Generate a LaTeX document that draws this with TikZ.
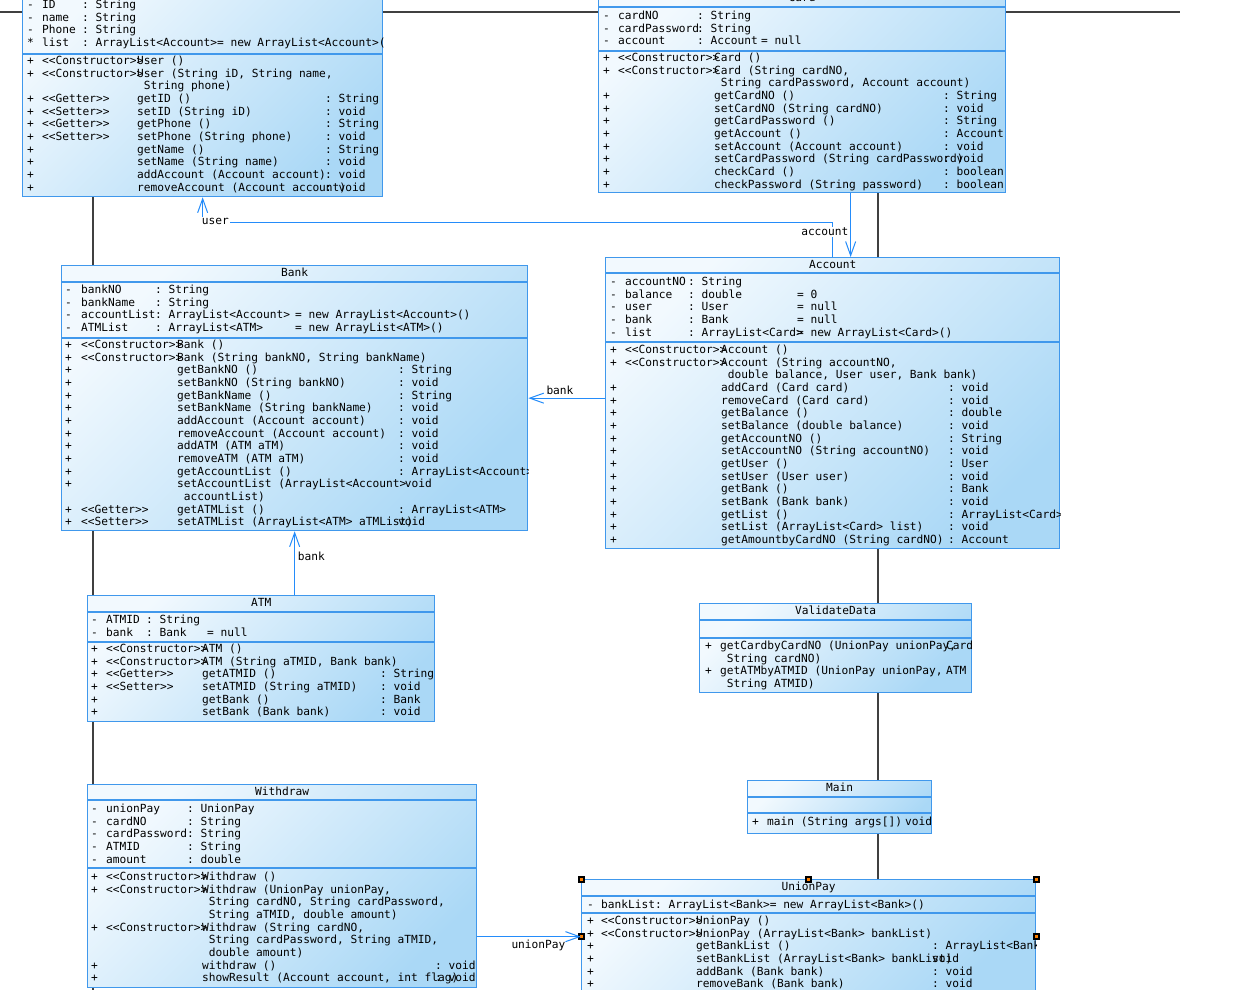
\documentclass[tikz,border=0pt]{standalone}
\usepackage{fontspec}
\setmonofont{DejaVu Sans Mono}
\usepackage{xcolor}
\usepackage{tikz}
\usetikzlibrary{
  positioning,
  calc,
  arrows.meta
}

\definecolor{umlborder}{RGB}{64,152,236}
\definecolor{umltop}{RGB}{242,249,254}
\definecolor{umlbottom}{RGB}{170,216,246}
\definecolor{assocblue}{RGB}{36,140,250}
\definecolor{pagegray}{RGB}{64,64,64}

\newlength\cola
\newlength\colb
\newlength\colc
\newcommand\cols[3]{\setlength\cola{#1pt}\setlength\colb{#2pt}\setlength\colc{#3pt}}
\newcommand\mrow[4]{\strut\makebox[\cola][l]{#1}\makebox[\colb][l]{#2}\makebox[\colc][l]{#3}#4}

\tikzset{
  umlfont/.style={font=\ttfamily\fontsize{11.2}{12.67}\selectfont},
  umlbox/.style={draw=umlborder, line width=1.3pt, inner sep=0pt, anchor=north west,
    top color=umltop, bottom color=umlbottom, shading angle=45},
  umlline/.style={draw=umlborder, line width=1.3pt},
  umlname/.style={umlfont, inner sep=0pt, anchor=north, text height=8pt, text depth=2pt},
  umltext/.style={umlfont, inner sep=0pt, anchor=north west, align=left},
  assoc/.style={draw=assocblue, line width=1pt, -{Straight Barb[length=14pt,width=10pt]}},
  role/.style={umlfont, inner sep=1pt},
  pageline/.style={draw=pagegray, line width=1.5pt}
}

\begin{document}
\begin{tikzpicture}[x=1pt,y=-1pt]
  \useasboundingbox (0,0) rectangle (1242,990);
  \fill[white] (0,0) rectangle (1242,990);
  \clip (0,0) rectangle (1242,990);

  % page lines behind the classes
  \draw[pageline] (0,12) -- (1180,12);
  \draw[pageline] (93,12) -- (93,990);
  \draw[pageline] (878,12) -- (878,990);

  % User
  \node[umlbox, minimum width=360pt, minimum height=217pt] (user) at (22,-21) {};
  \begin{scope}
    \clip (user.north west) rectangle (user.south east);
    \node[umlname, minimum height=17pt] (user-name) at (user.north) {User};
    \cols{15}{40}{0}
    \node[umltext] (user-attr) at (27,-0.5) {%
      \mrow{-}{ID}{: String}{}\\
      \mrow{-}{name}{: String}{}\\
      \mrow{-}{Phone}{: String}{}\\
      \mrow{*}{list}{: ArrayList<Account>= new ArrayList<Account>()}{}};
    \cols{15}{95}{188}
    \node[umltext] (user-ops) at (27,55.5) {%
      \mrow{+}{<<Constructor>>}{User ()}{}\\
      \mrow{+}{<<Constructor>>}{User (String iD, String name,}{}\\
      \mrow{}{}{\ String phone)}{}\\
      \mrow{+}{<<Getter>>}{getID ()}{: String}\\
      \mrow{+}{<<Setter>>}{setID (String iD)}{: void}\\
      \mrow{+}{<<Getter>>}{getPhone ()}{: String}\\
      \mrow{+}{<<Setter>>}{setPhone (String phone)}{: void}\\
      \mrow{+}{}{getName ()}{: String}\\
      \mrow{+}{}{setName (String name)}{: void}\\
      \mrow{+}{}{addAccount (Account account)}{: void}\\
      \mrow{+}{}{removeAccount (Account account)}{: void}};
  \end{scope}
  \draw[umlline] ([yshift=-17pt]user.north west) -- ([yshift=-17pt]user.north east);
  \draw[umlline] ([yshift=-75pt]user.north west) -- ([yshift=-75pt]user.north east);

  % Card
  \node[umlbox, minimum width=407pt, minimum height=202pt] (card) at (598,-10) {};
  \begin{scope}
    \clip (card.north west) rectangle (card.south east);
    \node[umlname, minimum height=17pt] (card-name) at (card.north) {Card};
    \cols{15}{79}{64}
    \node[umltext] (card-attr) at (603,10.5) {%
      \mrow{-}{cardNO}{: String}{}\\
      \mrow{-}{cardPassword}{: String}{}\\
      \mrow{-}{account}{: Account}{= null}};
    \cols{15}{96}{229}
    \node[umltext] (card-ops) at (603,52.5) {%
      \mrow{+}{<<Constructor>>}{Card ()}{}\\
      \mrow{+}{<<Constructor>>}{Card (String cardNO,}{}\\
      \mrow{}{}{\ String cardPassword, Account account)}{}\\
      \mrow{+}{}{getCardNO ()}{: String}\\
      \mrow{+}{}{setCardNO (String cardNO)}{: void}\\
      \mrow{+}{}{getCardPassword ()}{: String}\\
      \mrow{+}{}{getAccount ()}{: Account}\\
      \mrow{+}{}{setAccount (Account account)}{: void}\\
      \mrow{+}{}{setCardPassword (String cardPassword)}{: void}\\
      \mrow{+}{}{checkCard ()}{: boolean}\\
      \mrow{+}{}{checkPassword (String password)}{: boolean}};
  \end{scope}
  \draw[umlline] ([yshift=-17pt]card.north west) -- ([yshift=-17pt]card.north east);
  \draw[umlline] ([yshift=-61pt]card.north west) -- ([yshift=-61pt]card.north east);

  % Bank
  \node[umlbox, minimum width=466pt, minimum height=265pt] (bank) at (61,265) {};
  \begin{scope}
    \clip (bank.north west) rectangle (bank.south east);
    \node[umlname, minimum height=17pt] (bank-name) at (bank.north) {Bank};
    \cols{16}{74}{140}
    \node[umltext] (bank-attr) at (65,284.5) {%
      \mrow{-}{bankNO}{: String}{}\\
      \mrow{-}{bankName}{: String}{}\\
      \mrow{-}{accountList}{: ArrayList<Account>}{= new ArrayList<Account>()}\\
      \mrow{-}{ATMList}{: ArrayList<ATM>}{= new ArrayList<ATM>()}};
    \cols{16}{96}{221}
    \node[umltext] (bank-ops) at (65,339.5) {%
      \mrow{+}{<<Constructor>>}{Bank ()}{}\\
      \mrow{+}{<<Constructor>>}{Bank (String bankNO, String bankName)}{}\\
      \mrow{+}{}{getBankNO ()}{: String}\\
      \mrow{+}{}{setBankNO (String bankNO)}{: void}\\
      \mrow{+}{}{getBankName ()}{: String}\\
      \mrow{+}{}{setBankName (String bankName)}{: void}\\
      \mrow{+}{}{addAccount (Account account)}{: void}\\
      \mrow{+}{}{removeAccount (Account account)}{: void}\\
      \mrow{+}{}{addATM (ATM aTM)}{: void}\\
      \mrow{+}{}{removeATM (ATM aTM)}{: void}\\
      \mrow{+}{}{getAccountList ()}{: ArrayList<Account>}\\
      \mrow{+}{}{setAccountList (ArrayList<Account>}{ void}\\
      \mrow{}{}{\ accountList)}{}\\
      \mrow{+}{<<Getter>>}{getATMList ()}{: ArrayList<ATM>}\\
      \mrow{+}{<<Setter>>}{setATMList (ArrayList<ATM> aTMList)}{void}};
  \end{scope}
  \draw[umlline] ([yshift=-17pt]bank.north west) -- ([yshift=-17pt]bank.north east);
  \draw[umlline] ([yshift=-73pt]bank.north west) -- ([yshift=-73pt]bank.north east);

  % Account
  \node[umlbox, minimum width=454pt, minimum height=291pt] (account) at (605,257) {};
  \begin{scope}
    \clip (account.north west) rectangle (account.south east);
    \node[umlname, minimum height=16pt] (account-name) at (account.north) {Account};
    \cols{15}{63}{109}
    \node[umltext] (account-attr) at (610,276.5) {%
      \mrow{-}{accountNO}{: String}{}\\
      \mrow{-}{balance}{: double}{= 0}\\
      \mrow{-}{user}{: User}{= null}\\
      \mrow{-}{bank}{: Bank}{= null}\\
      \mrow{-}{list}{: ArrayList<Card>}{= new ArrayList<Card>()}};
    \cols{15}{96}{227}
    \node[umltext] (account-ops) at (610,344.5) {%
      \mrow{+}{<<Constructor>>}{Account ()}{}\\
      \mrow{+}{<<Constructor>>}{Account (String accountNO,}{}\\
      \mrow{}{}{\ double balance, User user, Bank bank)}{}\\
      \mrow{+}{}{addCard (Card card)}{: void}\\
      \mrow{+}{}{removeCard (Card card)}{: void}\\
      \mrow{+}{}{getBalance ()}{: double}\\
      \mrow{+}{}{setBalance (double balance)}{: void}\\
      \mrow{+}{}{getAccountNO ()}{: String}\\
      \mrow{+}{}{setAccountNO (String accountNO)}{: void}\\
      \mrow{+}{}{getUser ()}{: User}\\
      \mrow{+}{}{setUser (User user)}{: void}\\
      \mrow{+}{}{getBank ()}{: Bank}\\
      \mrow{+}{}{setBank (Bank bank)}{: void}\\
      \mrow{+}{}{getList ()}{: ArrayList<Card>}\\
      \mrow{+}{}{setList (ArrayList<Card> list)}{: void}\\
      \mrow{+}{}{getAmountbyCardNO (String cardNO)}{: Account}};
  \end{scope}
  \draw[umlline] ([yshift=-16pt]account.north west) -- ([yshift=-16pt]account.north east);
  \draw[umlline] ([yshift=-85pt]account.north west) -- ([yshift=-85pt]account.north east);

  % ATM
  \node[umlbox, minimum width=347pt, minimum height=126pt] (atm) at (87,595) {};
  \begin{scope}
    \clip (atm.north west) rectangle (atm.south east);
    \node[umlname, minimum height=17pt] (atm-name) at (atm.north) {ATM};
    \cols{15}{40}{61}
    \node[umltext] (atm-attr) at (91,614.5) {%
      \mrow{-}{ATMID}{: String}{}\\
      \mrow{-}{bank}{: Bank}{= null}};
    \cols{15}{96}{178}
    \node[umltext] (atm-ops) at (91,643.5) {%
      \mrow{+}{<<Constructor>>}{ATM ()}{}\\
      \mrow{+}{<<Constructor>>}{ATM (String aTMID, Bank bank)}{}\\
      \mrow{+}{<<Getter>>}{getATMID ()}{: String}\\
      \mrow{+}{<<Setter>>}{setATMID (String aTMID)}{: void}\\
      \mrow{+}{}{getBank ()}{: Bank}\\
      \mrow{+}{}{setBank (Bank bank)}{: void}};
  \end{scope}
  \draw[umlline] ([yshift=-17pt]atm.north west) -- ([yshift=-17pt]atm.north east);
  \draw[umlline] ([yshift=-47pt]atm.north west) -- ([yshift=-47pt]atm.north east);

  % ValidateData
  \node[umlbox, minimum width=272pt, minimum height=89pt] (validate) at (699,603) {};
  \begin{scope}
    \clip (validate.north west) rectangle (validate.south east);
    \node[umlname, minimum height=17pt] (validate-name) at (validate.north) {ValidateData};
    \cols{15}{0}{226}
    \node[umltext] (validate-ops) at (705,640.5) {%
      \mrow{+}{}{getCardbyCardNO (UnionPay unionPay,}{Card}\\
      \mrow{}{}{\ String cardNO)}{}\\
      \mrow{+}{}{getATMbyATMID (UnionPay unionPay,}{ATM}\\
      \mrow{}{}{\ String ATMID)}{}};
  \end{scope}
  \draw[umlline] ([yshift=-17pt]validate.north west) -- ([yshift=-17pt]validate.north east);
  \draw[umlline] ([yshift=-35pt]validate.north west) -- ([yshift=-35pt]validate.north east);

  % Main
  \node[umlbox, minimum width=184pt, minimum height=53pt] (main) at (747,780) {};
  \begin{scope}
    \clip (main.north west) rectangle (main.south east);
    \node[umlname, minimum height=17pt] (main-name) at (main.north) {Main};
    \cols{15}{0}{138}
    \node[umltext] (main-ops) at (752,816.5) {%
      \mrow{+}{}{main (String args[])}{void}};
  \end{scope}
  \draw[umlline] ([yshift=-17pt]main.north west) -- ([yshift=-17pt]main.north east);
  \draw[umlline] ([yshift=-33pt]main.north west) -- ([yshift=-33pt]main.north east);

  % Withdraw
  \node[umlbox, minimum width=389pt, minimum height=203pt] (withdraw) at (87,784) {};
  \begin{scope}
    \clip (withdraw.north west) rectangle (withdraw.south east);
    \node[umlname, minimum height=16pt] (withdraw-name) at (withdraw.north) {Withdraw};
    \cols{15}{81}{0}
    \node[umltext] (withdraw-attr) at (91,803.5) {%
      \mrow{-}{unionPay}{: UnionPay}{}\\
      \mrow{-}{cardNO}{: String}{}\\
      \mrow{-}{cardPassword}{: String}{}\\
      \mrow{-}{ATMID}{: String}{}\\
      \mrow{-}{amount}{: double}{}};
    \cols{15}{96}{233}
    \node[umltext] (withdraw-ops) at (91,871.5) {%
      \mrow{+}{<<Constructor>>}{Withdraw ()}{}\\
      \mrow{+}{<<Constructor>>}{Withdraw (UnionPay unionPay,}{}\\
      \mrow{}{}{\ String cardNO, String cardPassword,}{}\\
      \mrow{}{}{\ String aTMID, double amount)}{}\\
      \mrow{+}{<<Constructor>>}{Withdraw (String cardNO,}{}\\
      \mrow{}{}{\ String cardPassword, String aTMID,}{}\\
      \mrow{}{}{\ double amount)}{}\\
      \mrow{+}{}{withdraw ()}{: void}\\
      \mrow{+}{}{showResult (Account account, int flag)}{: void}};
  \end{scope}
  \draw[umlline] ([yshift=-16pt]withdraw.north west) -- ([yshift=-16pt]withdraw.north east);
  \draw[umlline] ([yshift=-84pt]withdraw.north west) -- ([yshift=-84pt]withdraw.north east);

  % UnionPay
  \node[umlbox, minimum width=454pt, minimum height=114pt] (unionpay) at (581,879) {};
  \begin{scope}
    \clip (unionpay.north west) rectangle (unionpay.south east);
    \node[umlname, minimum height=17pt] (unionpay-name) at (unionpay.north) {UnionPay};
    \cols{14}{0}{0}
    \node[umltext] (unionpay-attr) at (587,899.5) {%
      \mrow{-}{}{}{bankList: ArrayList<Bank>= new ArrayList<Bank>()}};
    \cols{14}{95}{236}
    \node[umltext] (unionpay-ops) at (587,915.5) {%
      \mrow{+}{<<Constructor>>}{UnionPay ()}{}\\
      \mrow{+}{<<Constructor>>}{UnionPay (ArrayList<Bank> bankList)}{}\\
      \mrow{+}{}{getBankList ()}{: ArrayList<Bank>}\\
      \mrow{+}{}{setBankList (ArrayList<Bank> bankList)}{void}\\
      \mrow{+}{}{addBank (Bank bank)}{: void}\\
      \mrow{+}{}{removeBank (Bank bank)}{: void}};
  \end{scope}
  \draw[umlline] ([yshift=-17pt]unionpay.north west) -- ([yshift=-17pt]unionpay.north east);
  \draw[umlline] ([yshift=-34pt]unionpay.north west) -- ([yshift=-34pt]unionpay.north east);
  % selection handles
  \foreach \h in {north west,north,north east,west,east}{
    \fill[black] ([shift={(-3.5,-3.5)}]unionpay.\h) rectangle ++(7,7);
    \fill[orange] ([shift={(-1.5,-1.5)}]unionpay.\h) rectangle ++(3,3);
  }

  % associations
  \draw[assoc] (account.north) -- ++(0,-35) -| (user.south);
  \draw[assoc] ([xshift=18pt]account.north |- card.south) -- ([xshift=18pt]account.north);
  \draw[assoc] (account.west |- bank.east) -- (bank.east);
  \draw[assoc] (atm.north -| bank.south) -- (bank.south);
  \draw[assoc] (withdraw.east |- unionpay.west) -- (unionpay.west);

  % role names
  \node[role, fill=white, anchor=west] (user-role) at ([shift={(-2,24)}]user.south) {user};
  \node[role, fill=white, anchor=east] (account-role) at ([shift={(17,-25)}]account.north) {account};
  \node[role, anchor=south west] (bank-role) at ([shift={(17,-2)}]bank.east) {bank};
  \node[role, anchor=west] (atm-role) at ([shift={(2,25)}]bank.south) {bank};
  \node[role, anchor=north west] (unionpay-role) at ([shift={(33,2)}]withdraw.east |- unionpay.west) {unionPay};
\end{tikzpicture}
\end{document}
